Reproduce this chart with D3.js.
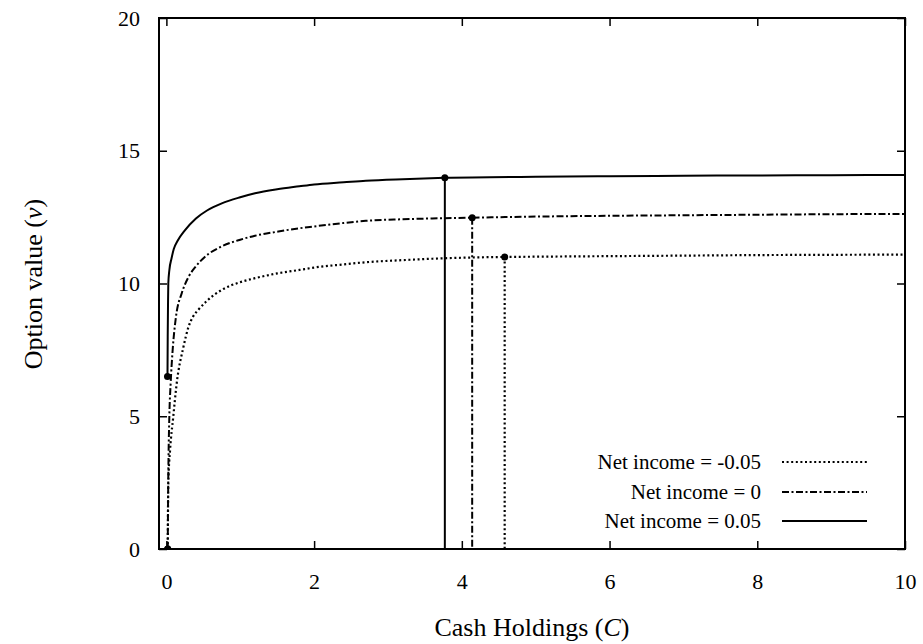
<!DOCTYPE html>
<html>
<head>
<meta charset="utf-8">
<script src="https://cdn.jsdelivr.net/npm/d3@7"></script>
<style>
  body { margin: 0; background: #fff; }
  text { font-family: "Liberation Serif", "Times New Roman", serif; fill: #000; }
</style>
</head>
<body>
<svg id="chart" width="923" height="644"></svg>
<script>
// Net income = 0.05 (solid)
const cHigh = [0.015, 0.018, 0.022, 0.026, 0.04, 0.07, 0.1, 0.15, 0.25, 0.4, 0.55, 0.75, 1.0, 1.2, 1.5, 1.8, 2.0, 2.4, 2.7, 3.2, 3.77, 5, 6, 7, 8, 9, 10];
const vHigh = [6.5, 8.0, 9.2, 10.0, 10.5, 10.95, 11.3, 11.6, 12.0, 12.45, 12.75, 13.02, 13.25, 13.4, 13.55, 13.66, 13.73, 13.81, 13.87, 13.93, 13.98, 14.02, 14.04, 14.06, 14.07, 14.08, 14.09];
// Net income = 0 (dash-dot)
const cZero = [0.018, 0.025, 0.04, 0.058, 0.085, 0.13, 0.21, 0.3, 0.4, 0.52, 0.75, 1.0, 1.2, 1.5, 1.65, 2.0, 2.4, 2.7, 3.2, 3.6, 4.14, 5, 6, 7, 8, 9, 10];
const vZero = [0, 2.5, 5.0, 6.25, 7.5, 8.75, 9.65, 10.25, 10.65, 11.0, 11.4, 11.65, 11.8, 11.95, 12.02, 12.15, 12.28, 12.36, 12.42, 12.45, 12.48, 12.52, 12.55, 12.57, 12.59, 12.61, 12.62];
// Net income = -0.05 (dotted)
const cLow = [0.018, 0.026, 0.05, 0.093, 0.14, 0.23, 0.3, 0.36, 0.43, 0.55, 0.75, 1.0, 1.2, 1.5, 1.8, 2.0, 2.4, 2.7, 3.2, 3.76, 4.58, 5, 6, 7, 8, 9, 10];
const vLow = [0, 2.5, 3.73, 4.98, 6.25, 7.6, 8.37, 8.75, 9.0, 9.35, 9.76, 10.05, 10.2, 10.38, 10.51, 10.6, 10.72, 10.8, 10.88, 10.95, 11.0, 11.01, 11.03, 11.05, 11.07, 11.08, 11.09];

// boundary points: upper threshold (vertical drop) and lower boundary
const upperC = [4.58, 4.14, 3.77];
const upperV = [11.0, 12.48, 13.98];
const lowerC = [0.018, 0.018, 0.015];
const lowerV = [0, 0, 6.5];

const legendLabels = ["Net income = -0.05", "Net income = 0", "Net income = 0.05"];
const dashes = ["2,2.6", "7,2.5,2,2.5", null];
const widths = [2.2, 2, 2];

const xTicks = [0, 2, 4, 6, 8, 10];
const yTicks = [0, 5, 10, 15, 20];

const W = 923, H = 644;
const m = { left: 159, right: 18, top: 18, bottom: 95 };
const svg = d3.select("#chart");

const x = d3.scaleLinear().domain([-0.1, 10]).range([m.left, W - m.right]);
const y = d3.scaleLinear().domain([0, 20]).range([H - m.bottom, m.top]);

svg.append("defs").append("clipPath").attr("id", "plot")
  .append("rect").attr("x", m.left).attr("y", m.top)
  .attr("width", W - m.left - m.right).attr("height", H - m.top - m.bottom);

// axes (inward ticks, mirrored)
const tick = 8;
svg.append("g").attr("transform", `translate(0,${H - m.bottom})`)
  .call(d3.axisBottom(x).tickValues(xTicks).tickSize(-tick).tickSizeOuter(0).tickPadding(24).tickFormat(d3.format("d")));
svg.append("g").attr("transform", `translate(0,${m.top})`)
  .call(d3.axisTop(x).tickValues(xTicks).tickSize(-tick).tickSizeOuter(0).tickFormat(""));
svg.append("g").attr("transform", `translate(${m.left},0)`)
  .call(d3.axisLeft(y).tickValues(yTicks).tickSize(-tick).tickSizeOuter(0).tickPadding(19).tickFormat(d3.format("d")));
svg.append("g").attr("transform", `translate(${W - m.right},0)`)
  .call(d3.axisRight(y).tickValues(yTicks).tickSize(-tick).tickSizeOuter(0).tickFormat(""));

svg.selectAll(".domain").remove();
svg.selectAll(".tick line").attr("stroke", "#000").attr("stroke-width", 1.5);
svg.selectAll(".tick text").attr("font-size", 22).attr("font-family", "Liberation Serif");

svg.append("rect").attr("x", m.left).attr("y", m.top)
  .attr("width", W - m.left - m.right).attr("height", H - m.top - m.bottom)
  .attr("fill", "none").attr("stroke", "#000").attr("stroke-width", 2);

// curves
const series = [
  cLow.map((c, i) => [c, vLow[i]]),
  cZero.map((c, i) => [c, vZero[i]]),
  cHigh.map((c, i) => [c, vHigh[i]])
];
const line = d3.line().x(d => x(d[0])).y(d => y(d[1])).curve(d3.curveMonotoneX);

const plot = svg.append("g").attr("clip-path", "url(#plot)");
series.forEach((s, i) => {
  plot.append("path").attr("d", line(s))
    .attr("fill", "none").attr("stroke", "#000").attr("stroke-width", widths[i])
    .attr("stroke-dasharray", dashes[i]);
  plot.append("line")
    .attr("x1", x(upperC[i])).attr("x2", x(upperC[i]))
    .attr("y1", y(upperV[i])).attr("y2", y(0))
    .attr("stroke", "#000").attr("stroke-width", widths[i])
    .attr("stroke-dasharray", dashes[i]);
});
upperC.forEach((c, i) => {
  plot.append("circle").attr("cx", x(c)).attr("cy", y(upperV[i])).attr("r", 3.5).attr("fill", "#000");
  plot.append("circle").attr("cx", x(lowerC[i])).attr("cy", y(lowerV[i])).attr("r", 3.5).attr("fill", "#000");
});

// legend
const legendY = [462, 492, 521];
legendLabels.forEach((t, i) => {
  svg.append("text").attr("x", 761).attr("y", legendY[i]).attr("dy", "0.35em")
    .attr("text-anchor", "end").attr("font-size", 21).text(t);
  svg.append("line").attr("x1", 782).attr("x2", 867)
    .attr("y1", legendY[i]).attr("y2", legendY[i])
    .attr("stroke", "#000").attr("stroke-width", widths[i])
    .attr("stroke-dasharray", dashes[i]);
});

// axis titles
const xl = svg.append("text").attr("x", 532).attr("y", 636)
  .attr("text-anchor", "middle").attr("font-size", 26);
xl.append("tspan").text("Cash Holdings (");
xl.append("tspan").attr("font-style", "italic").text("C");
xl.append("tspan").text(")");

const yl = svg.append("text").attr("transform", "translate(42,284) rotate(-90)")
  .attr("text-anchor", "middle").attr("font-size", 26);
yl.append("tspan").text("Option value (");
yl.append("tspan").attr("font-style", "italic").text("v");
yl.append("tspan").text(")");
</script>
</body>
</html>
